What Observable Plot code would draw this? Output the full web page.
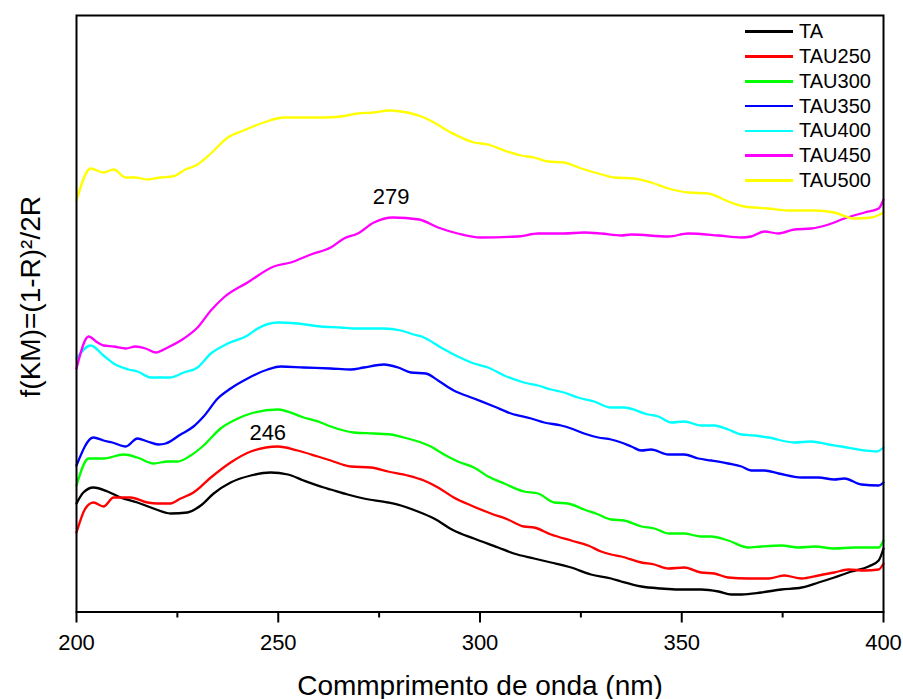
<!DOCTYPE html>
<html>
<head>
<meta charset="utf-8">
<script src="https://cdn.jsdelivr.net/npm/d3@7"></script>
<script src="https://cdn.jsdelivr.net/npm/@observablehq/plot@0.6"></script>
<style>
  html, body { margin: 0; padding: 0; background: #fff; }
  #wrap { position: relative; width: 903px; height: 699px; font-family: "Liberation Sans", Arial, sans-serif; }
  #legend { position: absolute; left: 745px; top: 19.3px; }
  .row { display: flex; align-items: center; height: 24.8px; font-size: 20px; color: #000; line-height: 24.8px; }
  .sw { width: 48px; height: 2.5px; margin-right: 6px; }
</style>
</head>
<body>
<div id="wrap"><div id="legend"></div></div>
<script>
// Series names and colours
const seriesNames = ["TA", "TAU250", "TAU300", "TAU350", "TAU400", "TAU450", "TAU500"];
const seriesColors = ["#000000", "#ff0000", "#00ff00", "#0000ff", "#00ffff", "#ff00ff", "#ffff00"];

// [wavelength (nm), f(KM) (arbitrary units)]
const TA = [[200,108],[201.7,119],[204.2,124],[207.7,120],[210.9,114],[215.1,109],[219.1,103],[223.3,98],[227.5,99],[230.8,106],[234,118],[238.2,129],[243.2,136],[248.1,139],[252.4,137],[256.3,131],[261.3,124],[263,122],[267.2,117],[271.2,113],[277.2,109],[280.4,106],[284.6,100],[288.6,93],[293.5,81],[298.5,73],[304.5,64],[308.4,58],[313.4,53],[317.6,49],[322.6,44],[327.5,37],[332.5,33],[335,30],[340,25],[344.9,23],[349.1,22],[354.8,22],[359.1,20],[362.3,17],[364.8,17],[369.7,19],[374.7,22],[379.7,24],[383.9,29],[387.8,34],[392.1,40],[396.3,45],[398.8,51],[400,63]];
const TAU250 = [[200,79],[202.2,103],[204.2,109],[206.7,105],[209.2,114],[213.4,114],[217.6,109],[220.1,108],[223.3,108],[225.8,113],[229,119],[233.3,134],[238.2,149],[243.2,160],[249.9,165],[254.8,161],[259.8,155],[263,151],[268,145],[273,144],[277.2,140],[282.1,136],[286.1,131],[289.6,124],[293.5,114],[297.8,106],[302.7,98],[306.9,92],[310.9,85],[313.4,84],[317.6,77],[322.6,71],[326.8,66],[330,60],[332.5,57],[335,55],[340,49],[343.2,47],[346.7,43],[350.6,44],[354.8,39],[358.1,38],[361.5,34],[366.5,33],[371.5,33],[375.4,36],[379.7,33],[383.9,36],[387.8,39],[391.3,42],[395.3,41],[398.8,42],[400,48]];
const TAU300 = [[200,126],[203,153],[206.7,153],[211.7,157],[215.1,154],[219.1,148],[222.6,150],[225.1,150],[228.3,156],[231.5,166],[235.7,183],[240,193],[243.2,198],[249.9,202],[256.3,194],[260.5,189],[263,185],[268.7,179],[273.7,178],[277.9,177],[281.1,174],[285.4,169],[287.8,165],[291.1,157],[294.5,150],[298.5,144],[302,135],[306,128],[310.9,120],[314.4,118],[318.4,109],[321.8,108],[325.8,102],[329.3,97],[332.5,92],[335.7,91],[340,85],[343.2,83],[346.7,78],[350.6,78],[354.8,75],[357.3,75],[361.5,71],[366.5,64],[369.7,65],[374.7,66],[378.9,64],[382.9,65],[387.8,63],[392.8,64],[398.8,64],[400,71]];
const TAU350 = [[200,146],[204.2,174],[206.7,171],[208.9,169],[212.2,165],[215.1,173],[217.6,170],[220.3,167],[222.1,168],[225.8,177],[229,185],[231.5,195],[235,213],[238.2,223],[242.4,233],[247.4,242],[250.6,245],[256.3,244],[263,243],[268,242],[271.2,244],[276.2,247],[279.7,244],[282.9,239],[286.6,238],[289.6,231],[293.5,221],[298.5,213],[303.5,205],[307.7,198],[312.7,193],[315.9,189],[320.1,186],[322.6,183],[325.8,178],[329.3,174],[332.5,172],[335,169],[337.5,165],[340,161],[342.4,162],[346.7,157],[350.6,157],[354.1,153],[357.3,151],[361.5,148],[364.8,145],[367.2,141],[370.5,141],[374,138],[379.7,134],[383.9,134],[387.8,132],[390.3,133],[394.5,127],[398.8,126],[400,129]];
const TAU400 = [[200,253],[203.5,266],[206.7,256],[209.2,248],[212.9,242],[215.1,240],[218.4,234],[223.3,234],[226.6,239],[230,244],[233.3,258],[237.5,268],[242.4,276],[244.9,283],[249.9,289],[254.8,288],[260.5,285],[265.5,284],[268.7,283],[276,283],[280.4,281],[283.6,277],[286.1,274],[290.3,264],[293.5,257],[298.5,248],[302,244],[306,236],[310.9,229],[314.4,226],[317.6,222],[320.8,219],[324.3,214],[328.3,210],[332.5,204],[335.7,204],[341.7,197],[344.2,195],[347.4,189],[350.6,190],[354.8,186],[358.1,186],[361.5,182],[364.8,177],[368,176],[371.5,174],[377.9,169],[382.1,170],[386.4,167],[389.6,165],[395.3,161],[398.3,160],[400,164]];
const TAU450 = [[200,243],[203,275],[205.2,269],[206.7,266],[209.2,265],[212.2,263],[214.6,265],[217.1,263],[219.6,259],[222.6,264],[226.6,273],[230,284],[233.3,301],[236.5,314],[242.4,329],[248.9,345],[253.1,349],[258.1,357],[263,364],[266.3,373],[269.7,378],[273.7,389],[278.4,394],[284.9,392],[289.6,384],[294.5,378],[300.2,374],[309.4,375],[314.4,378],[320.8,378],[325.8,379],[330,378],[335,376],[337.5,377],[346.7,375],[351.6,378],[359.1,376],[364.8,374],[367.2,375],[370.5,380],[374,378],[377.9,382],[382.1,383],[386.4,387],[390.3,393],[395.3,399],[398.8,403],[400,412]];
const TAU500 = [[200,411],[203.5,443],[206.7,439],[209.2,442],[212.2,434],[214.6,434],[217.6,432],[220.8,434],[223.8,435],[227,442],[230,447],[233.3,458],[237.5,474],[241.4,481],[246.4,489],[251.4,494],[256.3,494],[261.3,494],[265.5,495],[269.7,498],[273.7,499],[277.4,501],[280.4,500],[286.1,494],[288.6,489],[292.8,479],[298.5,469],[302,467],[306,461],[310.2,456],[313.4,454],[316.9,450],[320.8,449],[325.1,443],[329.3,438],[333.3,434],[338.2,433],[342.4,429],[346.7,423],[351.6,419],[356.6,418],[361.5,410],[365.5,405],[371.5,403],[376.4,401],[382.9,401],[387.8,399],[392.8,393],[397,394],[400,399]];

// Peak annotations
const peakLabels = ["246", "279"];
const peakX = [247.4, 278];
const peakY = [172, 408];

// Axis ticks and labels
const majorTicks = [200, 250, 300, 350, 400];
const minorTicks = [225, 275, 325, 375];
const xLabel = "Commprimento de onda (nm)";
const yLabel = "f(KM)=(1-R)²/2R";

const seriesData = [TA, TAU250, TAU300, TAU350, TAU400, TAU450, TAU500];
const rows = seriesData.flatMap((arr, i) => arr.map(([x, y]) => ({x, y, s: seriesNames[i]})));
const peaks = peakLabels.map((t, i) => ({t, x: peakX[i], y: peakY[i]}));

const chart = Plot.plot({
  width: 903,
  height: 699,
  marginLeft: 76,
  marginRight: 20,
  marginTop: 15,
  marginBottom: 87.5,
  style: {fontFamily: "'Liberation Sans', Arial, sans-serif", background: "#fff", color: "#000"},
  x: {domain: [200, 400]},
  y: {domain: [-0.5, 596], axis: null},
  color: {domain: seriesNames, range: seriesColors},
  marks: [
    Plot.line(rows, {x: "x", y: "y", z: "s", stroke: "s", strokeWidth: 2.3, curve: "monotone-x"}),
    Plot.text(peaks, {x: "x", y: "y", text: "t", fontSize: 22, lineAnchor: "bottom", fill: "#000"}),
    Plot.frame({stroke: "#000", strokeWidth: 2}),
    Plot.axisX({ticks: majorTicks, tickSize: 11, tickPadding: 11, fontSize: 22, strokeWidth: 2, label: null, tickFormat: d => String(d)}),
    Plot.axisX({ticks: minorTicks, tickSize: 6, strokeWidth: 2, label: null, tickFormat: () => ""}),
    Plot.text([xLabel], {frameAnchor: "bottom", dy: 82.5, lineAnchor: "bottom", textAnchor: "middle", fontSize: 28, text: d => d, fill: "#000"}),
    Plot.text([yLabel], {frameAnchor: "left", rotate: -90, dx: -45, dy: -17, textAnchor: "middle", lineAnchor: "middle", fontSize: 28, text: d => d, fill: "#000"})
  ]
});
document.getElementById("wrap").prepend(chart);

const legend = document.getElementById("legend");
seriesNames.forEach((name, i) => {
  const row = document.createElement("div");
  row.className = "row";
  const sw = document.createElement("span");
  sw.className = "sw";
  sw.style.background = seriesColors[i];
  const label = document.createElement("span");
  label.textContent = name;
  row.appendChild(sw);
  row.appendChild(label);
  legend.appendChild(row);
});
</script>
</body>
</html>
